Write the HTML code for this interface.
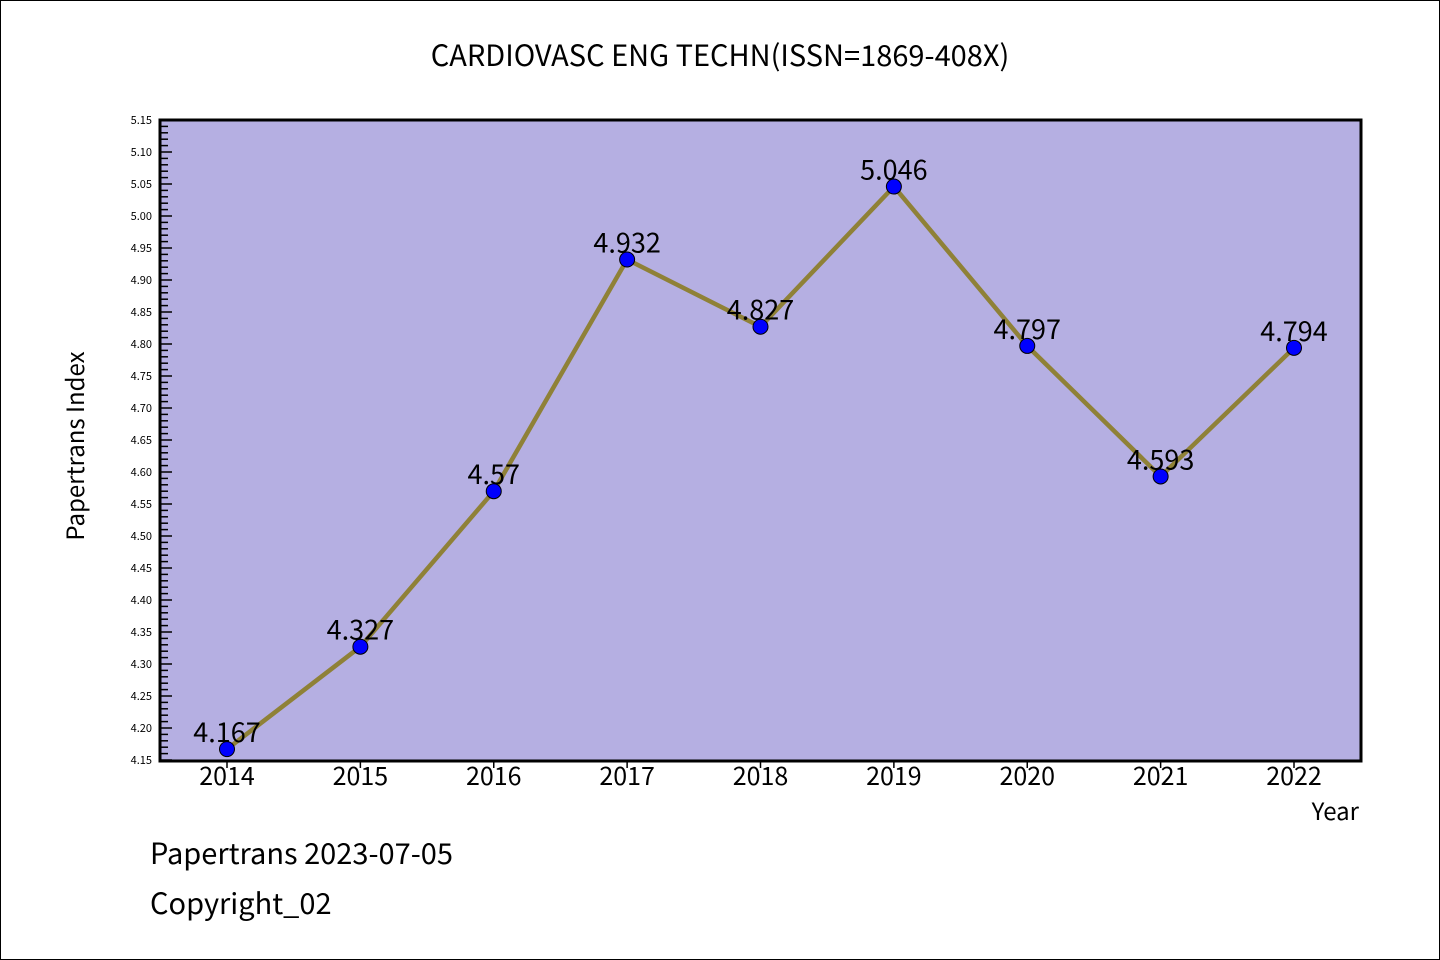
<!DOCTYPE html>
<html><head><meta charset="utf-8"><style>
body{margin:0;background:#fff}
svg{display:block}
text{font-family:"WenQuanYi Zen Hei","Noto Sans CJK SC","DejaVu Sans Mono",monospace}
</style></head><body>
<svg id="chart" width="1440" height="960" xmlns="http://www.w3.org/2000/svg">
<rect x="0.5" y="0.5" width="1439" height="959" fill="#fff" stroke="#000"/>
<text x="720" y="66" font-size="29" text-anchor="middle">CARDIOVASC ENG TECHN(ISSN=1869-408X)</text>
<rect x="160" y="120" width="1201" height="641" fill="#b5afe2"/>
<g id="yaxis"></g>
<g id="xaxis"></g>
<g id="series"></g>
<rect x="160" y="120" width="1201" height="641" fill="none" stroke="#000" stroke-width="3"/>
<text transform="translate(84,446) rotate(-90)" font-size="24" text-anchor="middle">Papertrans Index</text>
<text x="1359" y="820" font-size="24" text-anchor="end">Year</text>
<text x="150" y="864" font-size="29">Papertrans 2023-07-05</text>
<text x="150" y="914" font-size="29">Copyright_02</text>
</svg>
<script>
const years=["2014","2015","2016","2017","2018","2019","2020","2021","2022"];
const values=[4.167,4.327,4.57,4.932,4.827,5.046,4.797,4.593,4.794];
const valueLabels=["4.167","4.327","4.57","4.932","4.827","5.046","4.797","4.593","4.794"];
const yMin=4.15,yMax=5.15;
const ns="http://www.w3.org/2000/svg";
function xs(i){return 227+i*(1294-227)/(years.length-1);}
function ys(v){return 760-(v-yMin)/(yMax-yMin)*640;}
function mk(tag,attrs,parent){const e=document.createElementNS(ns,tag);for(const k in attrs)e.setAttribute(k,attrs[k]);parent.appendChild(e);return e;}
const ya=document.getElementById('yaxis');
for(let k=0;k<=100;k++){
  const v=yMin+k*0.01,y=ys(v),major=k%5===0;
  const t=mk('line',{x1:160,x2:major?172:168,y1:y,y2:y,stroke:'#000','stroke-width':1.5},ya);
  
  
  if(major){
    const l=mk('text',{x:152,y:y+4,'font-size':11,'text-anchor':'end','font-family':'DejaVu Sans'},ya);
    
    
    l.textContent=v.toFixed(2);
  }
}
const xa=document.getElementById('xaxis');
years.forEach((yr,i)=>{
  const x=xs(i);
  const t=mk('line',{x1:x,x2:x,y1:761,y2:768,stroke:'#000','stroke-width':1.5},xa);
  
  
  const l=mk('text',{x:x,y:785,'font-size':25,'text-anchor':'middle'},xa);
  
  
  l.textContent=yr;
});
const s=document.getElementById('series');
const pl=mk('polyline',{points:values.map((v,i)=>xs(i)+','+ys(v)).join(' '),fill:'none',stroke:'#8f8137','stroke-width':4.5},s);


values.forEach((v,i)=>{
  const c=mk('circle',{cx:xs(i),cy:ys(v),r:7.5,fill:'#0000ff',stroke:'#000','stroke-width':1},s);
  
  
  const l=mk('text',{x:xs(i),y:ys(v)-7,'font-size':27,'text-anchor':'middle'},s);
  
  
  l.textContent=valueLabels[i];
});
</script>
</body></html>
